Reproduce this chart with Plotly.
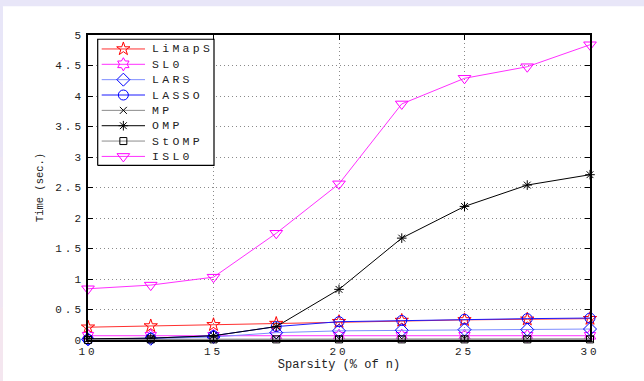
import plotly.graph_objects as go

# Sparsity levels (% of n)
sparsity = [10, 12.5, 15, 17.5, 20, 22.5, 25, 27.5, 30]

# Average running time (sec.) per algorithm
limaps = [0.21, 0.23, 0.25, 0.27, 0.30, 0.32, 0.33, 0.34, 0.35]
sl0 = [0.07, 0.07, 0.07, 0.07, 0.07, 0.07, 0.07, 0.07, 0.07]
lars = [0.01, 0.02, 0.05, 0.12, 0.15, 0.16, 0.17, 0.17, 0.18]
lasso = [0.01, 0.03, 0.07, 0.22, 0.30, 0.32, 0.34, 0.35, 0.36]
mp = [0.01, 0.01, 0.02, 0.02, 0.02, 0.02, 0.02, 0.02, 0.02]
omp = [0.02, 0.03, 0.07, 0.22, 0.83, 1.67, 2.19, 2.54, 2.71]
stomp = [0.0, 0.01, 0.01, 0.01, 0.01, 0.01, 0.01, 0.01, 0.01]
isl0 = [0.84, 0.90, 1.03, 1.75, 2.56, 3.87, 4.29, 4.48, 4.84]

x_ticks = [10, 15, 20, 25, 30]
y_ticks = [0, 0.5, 1, 1.5, 2, 2.5, 3, 3.5, 4, 4.5, 5]
y_tick_text = ["0", "0.5", "1", "1.5", "2", "2.5", "3", "3.5", "4", "4.5", "5"]

FONT = "Liberation Mono, Courier New, monospace"
TEXT = "#222222"


def spaced(s, px):
    return f'<span style="letter-spacing:{px}px">{s}</span>'


# name, values, line colour, marker symbol, marker colour, marker size
series = [
    ("LiMapS", limaps, "#ff3030", "star-open", "#ff0000", 10),
    ("SL0", sl0, "#ff30ff", "hexagram-open", "#ff00ff", 10),
    ("LARS", lars, "#7d8cff", "diamond-open", "#0000ff", 10),
    ("LASSO", lasso, "#1a1aff", "circle-open", "#0000ff", 10),
    ("MP", mp, "#8c8c8c", "x-thin-open", "#000000", 7),
    ("OMP", omp, "#000000", "asterisk-open", "#000000", 8),
    ("StOMP", stomp, "#8c8c8c", "square-open", "#000000", 7),
    ("ISL0", isl0, "#ff30ff", "triangle-down-open", "#ff00ff", 11),
]

fig = go.Figure()
for name, vals, lcol, sym, mcol, size in series:
    fig.add_trace(go.Scatter(
        x=sparsity, y=vals, name=name, mode="lines+markers",
        line=dict(color=lcol, width=1),
        marker=dict(symbol=sym, size=size, color=mcol,
                    line=dict(color=mcol, width=1)),
        showlegend=False, cliponaxis=False,
    ))

# Legend box drawn on a pixel-unit overlay axis (plot area is 502 x 308 px)
PW, PH = 502, 308
box_l, box_r, box_t, box_b = 9.7, 126, 303.7, 176.3
fig.add_trace(go.Scatter(
    x=[box_l, box_r, box_r, box_l, box_l],
    y=[box_b, box_b, box_t, box_t, box_b],
    xaxis="x2", yaxis="y2", mode="lines", fill="toself",
    fillcolor="white", line=dict(color="black", width=1.2),
    showlegend=False, hoverinfo="skip",
))
row0, row_gap = box_t - 9.8, 15.5
seg_x0, seg_x1, txt_x = 13.7, 57, 62
annotations = []
for i, (name, vals, lcol, sym, mcol, size) in enumerate(series):
    ry = row0 - i * row_gap
    fig.add_trace(go.Scatter(
        x=[seg_x0, seg_x1], y=[ry, ry], xaxis="x2", yaxis="y2",
        mode="lines", line=dict(color=lcol, width=1),
        showlegend=False, hoverinfo="skip",
    ))
    fig.add_trace(go.Scatter(
        x=[(seg_x0 + seg_x1) / 2], y=[ry], xaxis="x2", yaxis="y2",
        mode="markers",
        marker=dict(symbol=sym, size=size, color=mcol,
                    line=dict(color=mcol, width=1)),
        showlegend=False, hoverinfo="skip",
    ))
    annotations.append(dict(
        x=txt_x, y=ry, xref="x2", yref="y2", xanchor="left", yanchor="middle",
        text=spaced(name, 3.3), showarrow=False,
        font=dict(family=FONT, size=11.5, color=TEXT),
    ))

# Window-style frame around the figure
frame_shapes = [
    dict(type="rect", xref="paper", yref="paper",
         x0=-0.17, x1=1.12, y0=-0.14, y1=1.094,
         fillcolor="white", line=dict(width=0), layer="below"),
]
left_fade = ["#e8e6f8", "#ebe6f6", "#eee6f4", "#f1e6f2", "#f4e6ef"]
n = len(left_fade)
for i, c in enumerate(left_fade):
    top = 1.094 - i * (1.094 + 0.14) / n
    bot = 1.094 - (i + 1) * (1.094 + 0.14) / n
    frame_shapes.append(dict(type="rect", xref="paper", yref="paper",
                             x0=-0.18, x1=-0.1693, y0=bot, y1=top,
                             fillcolor=c, line=dict(width=0), layer="below"))

axis_common = dict(
    showgrid=True, gridcolor="#8a8a8a", griddash="1px,3px", gridwidth=1,
    zeroline=False, showline=True, linecolor="black", linewidth=1.6,
    mirror="ticks", ticks="inside", ticklen=5, tickcolor="black",
    tickfont=dict(family=FONT, size=11, color=TEXT),
)

fig.update_layout(
    width=644, height=381,
    margin=dict(l=88, r=54, t=35, b=38),
    paper_bgcolor="#e8e6f8",
    plot_bgcolor="white",
    font=dict(family=FONT, size=12, color=TEXT),
    shapes=frame_shapes,
    annotations=annotations,
    showlegend=False,
    xaxis=dict(
        range=[10, 30], tickvals=x_ticks,
        ticktext=[spaced(str(v), 3) for v in x_ticks],
        title=dict(text="Sparsity (% of n)", standoff=3,
                   font=dict(family=FONT, size=12, color=TEXT)),
        **axis_common,
    ),
    yaxis=dict(
        range=[0, 5], tickvals=y_ticks,
        ticktext=[spaced(t, 3) for t in y_tick_text],
        title=dict(text="Time (sec.)", standoff=10,
                   font=dict(family=FONT, size=10.5, color=TEXT)),
        **axis_common,
    ),
    xaxis2=dict(overlaying="x", anchor="y2", range=[0, PW], visible=False,
                fixedrange=True),
    yaxis2=dict(overlaying="y", anchor="x2", range=[0, PH], visible=False,
                fixedrange=True),
)

fig.write_html("out.html")
